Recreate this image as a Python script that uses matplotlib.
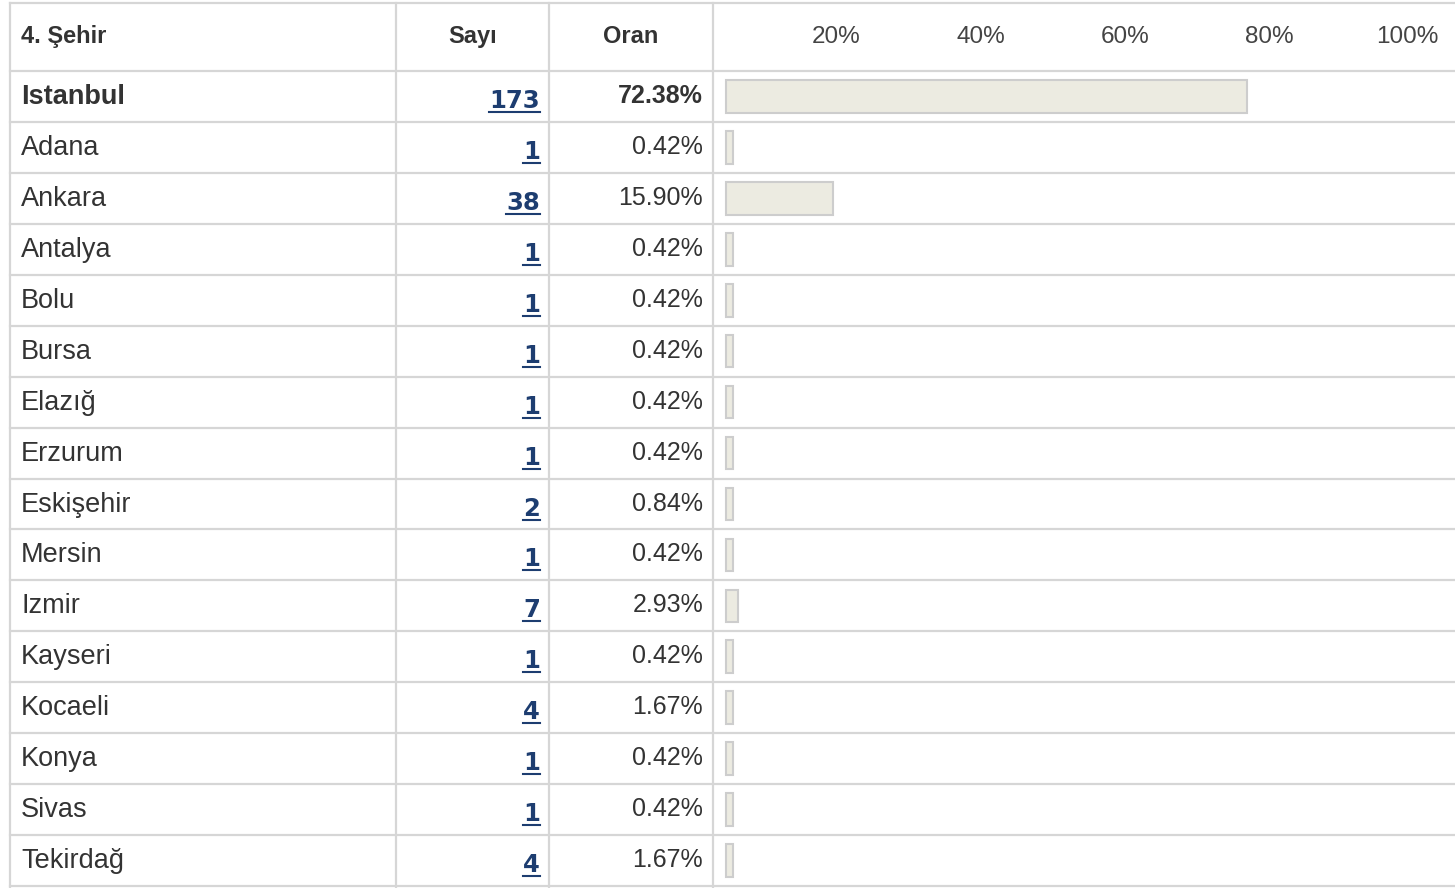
import numpy as np
import matplotlib
matplotlib.use('Agg')
import matplotlib.pyplot as plt

# survey answers, question 4 (city)
header = '4. Şehir'
col_count = 'Sayı'
col_share = 'Oran'
cities = ['Istanbul', 'Adana', 'Ankara', 'Antalya', 'Bolu', 'Bursa', 'Elazığ',
          'Erzurum', 'Eskişehir', 'Mersin', 'Izmir', 'Kayseri', 'Kocaeli',
          'Konya', 'Sivas', 'Tekirdağ']
counts = [173, 1, 38, 1, 1, 1, 1, 1, 2, 1, 7, 1, 4, 1, 1, 4]
shares = [72.38, 0.42, 15.90, 0.42, 0.42, 0.42, 0.42, 0.42, 0.84, 0.42,
          2.93, 0.42, 1.67, 0.42, 0.42, 1.67]
ticks = [20, 40, 60, 80, 100]

W, H = 1455, 888
top, head_bot = 3, 71
row_h = (886 - head_bot) / len(cities)
col_x = [10, 396, 549, 713]

grid_c = '#d6d6d6'
txt_c = '#333333'
link_c = '#1d3d70'
font = 'Liberation Sans'

fig = plt.figure(figsize=(W / 100, H / 100), dpi=100)
ax = fig.add_axes([0, 0, 1, 1])
ax.set_xlim(0, W)
ax.set_ylim(H, 0)
ax.axis('off')

# table grid
ax.plot([col_x[0], W], [top, top], color=grid_c, lw=1.6)
for i in range(len(cities) + 1):
    y = head_bot + i * row_h
    ax.plot([col_x[0], W], [y, y], color=grid_c, lw=1.6)
for x in col_x:
    ax.plot([x, x], [top, H], color=grid_c, lw=1.6)

# header
ax.text(21, 43, header, fontsize=17, fontweight='bold', color=txt_c, family=font)
ax.text((col_x[1] + col_x[2]) / 2, 43, col_count, fontsize=17, fontweight='bold',
        color=txt_c, family=font, ha='center')
ax.text((col_x[2] + col_x[3]) / 2, 43, col_share, fontsize=17, fontweight='bold',
        color=txt_c, family=font, ha='center')

# bar column
x0, x100 = 716.5, 1449.5
bx = fig.add_axes([x0 / W, 1 - 886 / H, (x100 - x0) / W, (886 - head_bot) / H])
bx.set_xlim(0, 100)
bx.set_ylim(len(cities) - 0.5, -0.5)
bx.axis('off')
bx.patch.set_alpha(0)
vals = np.array(shares)
pad = 1.3
bx.barh(np.arange(len(cities)), np.maximum(vals, pad + 1.0) - pad, left=pad,
        height=0.64, color='#ecebe1', edgecolor='#cdcdcd', linewidth=1.5)

for t in ticks:
    xt = x0 + (x100 - x0) * t * 0.985 / 100
    ax.text(xt, 43, f'{t}%', fontsize=17.5, color='#444444', family=font, ha='right')

numbers = []
for i, (c, n, s) in enumerate(zip(cities, counts, shares)):
    y = head_bot + i * row_h
    w = 'bold' if i == 0 else 'normal'
    ax.text(21, y + 33, c, fontsize=19.5, fontweight=w, color=txt_c, family=font)
    t = ax.text(540, y + 37, str(n), fontsize=17.5, fontweight='bold', color=link_c,
                family='DejaVu Sans', ha='right')
    numbers.append((t, y + 41))
    ax.text(703, y + 32, f'{s:.2f}%', fontsize=18, fontweight=w, color=txt_c,
            family=font, ha='right')

# underline the count links
fig.canvas.draw()
r = fig.canvas.get_renderer()
inv = ax.transData.inverted()
for t, yu in numbers:
    bb = t.get_window_extent(r)
    (xa, _), (xb, _) = inv.transform([[bb.x0, bb.y0], [bb.x1, bb.y1]])
    ax.plot([xa, xb], [yu, yu], color=link_c, lw=1.5)

fig.savefig('out.png', dpi=100)
